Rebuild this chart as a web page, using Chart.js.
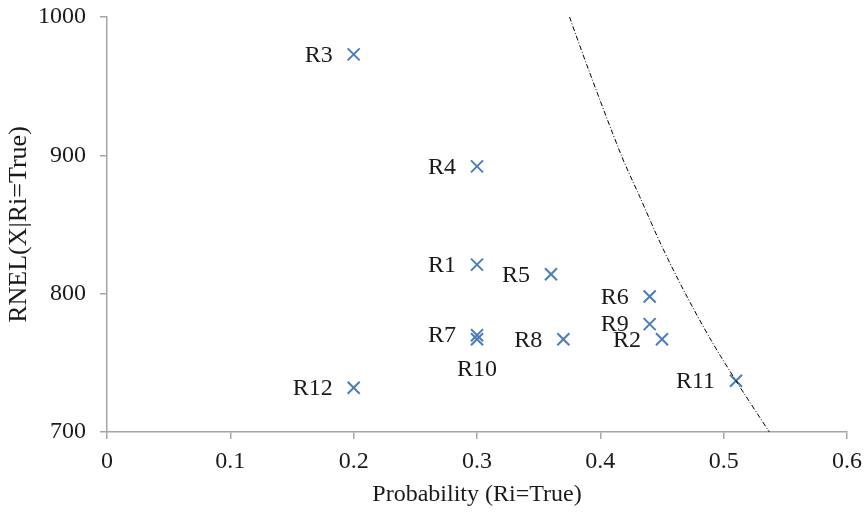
<!DOCTYPE html>
<html>
<head>
<meta charset="utf-8">
<script src="https://cdn.jsdelivr.net/npm/chart.js@4"></script>
<style>
  html, body { margin: 0; padding: 0; background: #fff; }
  #wrap { width: 868px; height: 512px; }
</style>
</head>
<body>
<div id="wrap"><canvas id="grafico"></canvas></div>
<script>
// pontos das regras
const rotulos = ['R1', 'R2', 'R3', 'R4', 'R5', 'R6', 'R7', 'R8', 'R9', 'R10', 'R11', 'R12'];
const probs = [0.30, 0.45, 0.20, 0.30, 0.36, 0.44, 0.30, 0.37, 0.44, 0.30, 0.51, 0.20];
const rnel = [821, 767, 973, 892, 814, 798, 770, 767, 778, 767, 737, 732];

// curva tracejada
const curvaX = [0.375, 0.39, 0.417, 0.432, 0.45, 0.469, 0.49, 0.51, 0.537];
const curvaY = [1000, 963, 900, 870, 834, 800, 766, 737, 700];

const xTicks = [0, 0.1, 0.2, 0.3, 0.4, 0.5, 0.6];
const yTicks = [700, 800, 900, 1000];

const fonte = "'Liberation Serif', 'Times New Roman', serif";

// rótulos ao lado dos pontos
const pluginRotulos = {
    id: 'rotulos',
    afterDatasetsDraw(chart) {
        const meta = chart.getDatasetMeta(1);
        const ctx = chart.ctx;
        ctx.save();
        ctx.font = '24px ' + fonte;
        ctx.fillStyle = '#1a1a1a';
        meta.data.forEach((p, i) => {
            if (rotulos[i] === 'R10') {
                ctx.textAlign = 'center';
                ctx.textBaseline = 'middle';
                ctx.fillText(rotulos[i], p.x, p.y + 30);
            } else {
                ctx.textAlign = 'right';
                ctx.textBaseline = 'middle';
                ctx.fillText(rotulos[i], p.x - 21, p.y + 1);
            }
        });
        ctx.restore();
    }
};

const eixoCor = '#a6a6a6';

new Chart(document.getElementById('grafico'), {
    type: 'scatter',
    data: {
        datasets: [
            {
                type: 'line',
                data: curvaX.map((x, i) => ({ x: x, y: curvaY[i] })),
                borderColor: '#000',
                borderWidth: 1,
                borderDash: [5, 2, 1, 2],
                pointRadius: 0,
                tension: 0.3,
                fill: false
            },
            {
                data: probs.map((x, i) => ({ x: x, y: rnel[i] })),
                pointStyle: 'crossRot',
                pointRadius: 8.5,
                pointBorderWidth: 2,
                borderColor: '#4a7ebb',
                backgroundColor: '#4a7ebb'
            }
        ]
    },
    options: {
        responsive: true,
        maintainAspectRatio: false,
        animation: false,
        layout: { padding: { left: 0, top: 17, right: 21, bottom: 0 } },
        plugins: { legend: { display: false }, tooltip: { enabled: false } },
        scales: {
            x: {
                type: 'linear',
                min: 0, max: 0.6,
                afterBuildTicks: (s) => { s.ticks = xTicks.map(v => ({ value: v })); },
                afterFit: (s) => { s.height = 80; s.paddingLeft = 0; s.paddingRight = 0; },
                ticks: {
                    color: '#1a1a1a',
                    font: { family: fonte, size: 24 },
                    padding: 8,
                    callback: (v) => String(v)
                },
                grid: { drawOnChartArea: false, tickLength: 7, color: eixoCor, lineWidth: 1.5 },
                border: { color: eixoCor, width: 1.5 },
                title: {
                    display: true,
                    text: 'Probability (Ri=True)',
                    color: '#1a1a1a',
                    font: { family: fonte, size: 24 },
                    padding: { top: 0, bottom: 3 }
                }
            },
            y: {
                type: 'linear',
                min: 700, max: 1000,
                afterBuildTicks: (s) => { s.ticks = yTicks.map(v => ({ value: v })); },
                afterFit: (s) => { s.width = 107; s.paddingTop = 0; s.paddingBottom = 0; },
                ticks: {
                    color: '#1a1a1a',
                    font: { family: fonte, size: 24 },
                    padding: 14,
                    callback: (v) => String(v)
                },
                grid: { drawOnChartArea: false, tickLength: 7, color: eixoCor, lineWidth: 1.5 },
                border: { color: eixoCor, width: 1.5 },
                title: {
                    display: true,
                    text: 'RNEL(X|Ri=True)',
                    color: '#1a1a1a',
                    font: { family: fonte, size: 26 },
                    padding: { top: 3.5, bottom: 0 }
                }
            }
        }
    },
    plugins: [pluginRotulos]
});
</script>
</body>
</html>
